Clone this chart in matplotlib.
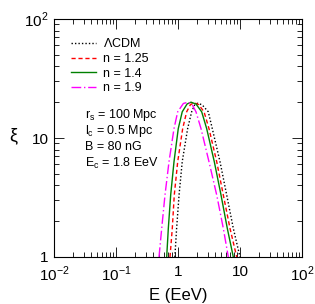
import matplotlib
matplotlib.use("Agg")
import matplotlib.pyplot as plt
from matplotlib.ticker import LogLocator, NullFormatter, FixedLocator, FixedFormatter

plt.rcParams['font.family'] = ['Liberation Sans', 'DejaVu Sans']
plt.rcParams['mathtext.fontset'] = 'custom'
plt.rcParams['mathtext.rm'] = 'Liberation Sans'

# Data
E_lcdm = [0.89, 0.95, 1.04, 1.17, 1.43, 1.66, 1.85, 2.08, 2.45, 3.08, 3.57, 4.76, 6.10, 7.80, 10.0]
xi_lcdm = [1.0, 1.74, 3.32, 6.32, 12.0, 16.6, 18.9, 19.6, 19.0, 16.6, 12.0, 6.32, 3.32, 1.74, 1.0]

E_n125 = [0.743, 0.809, 0.871, 0.989, 1.19, 1.38, 1.58, 1.81, 2.15, 2.63, 3.16, 4.21, 5.38, 6.90, 8.85]
xi_n125 = [1.0, 1.74, 3.32, 6.32, 12.0, 16.6, 19.0, 19.8, 19.1, 16.6, 12.0, 6.32, 3.32, 1.74, 1.0]

E_n14 = [0.657, 0.698, 0.762, 0.862, 1.01, 1.17, 1.40, 1.62, 1.95, 2.41, 2.90, 3.85, 4.94, 6.24, 7.80]
xi_n14 = [1.0, 1.74, 3.32, 6.32, 12.0, 16.6, 19.3, 20.0, 19.3, 16.6, 12.0, 6.32, 3.32, 1.74, 1.0]

E_n19 = [0.494, 0.546, 0.617, 0.716, 0.862, 0.989, 1.22, 1.45, 1.70, 1.95, 2.35, 3.16, 4.21, 5.38, 6.48]
xi_n19 = [1.0, 1.74, 3.32, 6.32, 12.0, 16.6, 19.5, 20.0, 19.0, 16.6, 12.0, 6.32, 3.32, 1.74, 1.0]

labels = ['$\\Lambda$CDM', 'n = 1.25', 'n = 1.4', 'n = 1.9']
params = ['r$_\\mathrm{s}$ = 100 Mpc', 'l$_\\mathrm{c}$ = 0.5 Mpc', 'B = 80 nG', 'E$_\\mathrm{c}$ = 1.8 EeV']

fig = plt.figure(figsize=(3.15, 3.04), dpi=100)
ax = fig.add_axes([54/315, 1-257/304, (302-54)/315, (257-19)/304])

ax.plot(E_lcdm, xi_lcdm, color='black', ls=(0, (1, 1.5)), lw=1.0, label=labels[0])
ax.plot(E_n125, xi_n125, color='red', ls=(0, (3, 2)), lw=1.0, label=labels[1])
ax.plot(E_n14, xi_n14, color='green', ls='-', lw=1.0, label=labels[2])
ax.plot(E_n19, xi_n19, color='magenta', ls=(0, (7, 2, 1, 2)), lw=1.0, label=labels[3])

ax.set_xscale('log')
ax.set_yscale('log')
ax.set_xlim(1e-2, 1e2)
ax.set_ylim(1, 100)

ax.xaxis.set_major_locator(FixedLocator([1e-2, 1e-1, 1, 10, 100]))
ax.xaxis.set_major_formatter(FixedFormatter(['10$^{-2}$', '10$^{-1}$', '1', '10', '10$^{2}$']))
ax.xaxis.set_minor_locator(LogLocator(base=10, subs=range(2, 10), numticks=20))
ax.xaxis.set_minor_formatter(NullFormatter())
ax.yaxis.set_major_locator(FixedLocator([1, 10, 100]))
ax.yaxis.set_major_formatter(FixedFormatter(['1', '10', '10$^{2}$']))
ax.yaxis.set_minor_locator(LogLocator(base=10, subs=range(2, 10), numticks=20))
ax.yaxis.set_minor_formatter(NullFormatter())

ax.tick_params(which='both', direction='in', top=True, right=True, labelsize=11, width=0.6)
ax.tick_params(which='major', length=7, pad=4)
ax.tick_params(axis='x', which='major', pad=5.5)
ax.tick_params(which='minor', length=3.5)
for s in ax.spines.values():
    s.set_linewidth(0.8)

ax.set_xlabel('E (EeV)', fontsize=12, labelpad=3)
fig.text(13/315, 1 - 136/304, 'ξ', fontsize=13, ha='center', va='center')

leg = ax.legend(loc='upper left', bbox_to_anchor=(0.04, 0.955), frameon=False, fontsize=9,
                handlelength=2.0, handletextpad=0.55, labelspacing=0.22, borderaxespad=0.2)

for i, t in enumerate(params):
    y = 1 - (115 + 16.2 * i - 19) / (257 - 19)
    x = (85 - 54) / (302 - 54)
    ax.text(x, y, t, transform=ax.transAxes, fontsize=9, va='center', ha='left')

fig.savefig('out.png', dpi=100)
